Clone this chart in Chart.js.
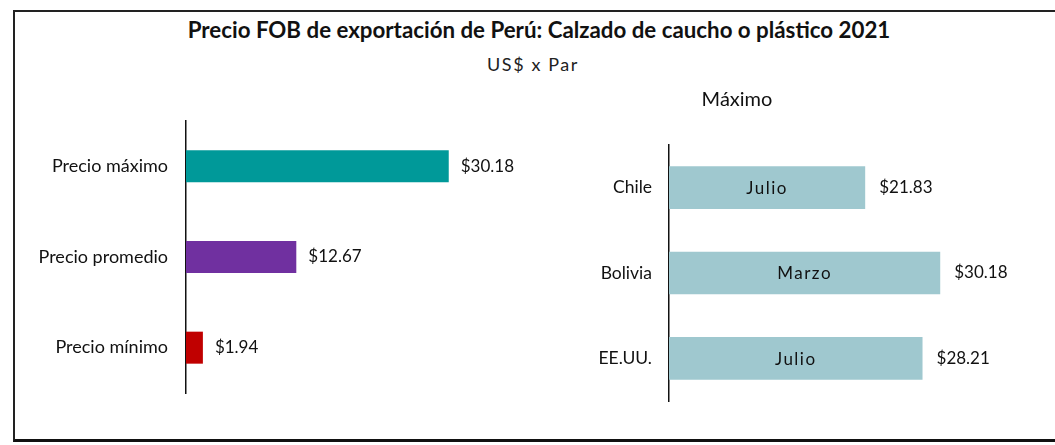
<!DOCTYPE html>
<html>
<head>
<meta charset="utf-8">
<script src="https://cdn.jsdelivr.net/npm/chart.js@4.4.1/dist/chart.umd.min.js"></script>
<style>
  body { margin:0; background:#fff; font-family: Lato, "Open Sans", sans-serif; }
  .frame { position:absolute; left:13px; top:10px; width:1060px; height:427px;
           border-top:2px solid #222; border-left:2px solid #222; border-bottom:3px solid #111; }
  .title { position:absolute; left:0; width:1078px; top:16px; line-height:28px; text-align:center;
           font-weight:bold; font-size:22.3px; color:#111; }
  .subtitle { position:absolute; left:0; width:1066px; top:53px; line-height:22px; text-align:center;
              font-size:18px; color:#222; letter-spacing:1.6px; }
  canvas { position:absolute; }
</style>
</head>
<body>
<div class="frame"></div>
<div class="title">Precio FOB de exportación de Perú: Calzado de caucho o plástico 2021</div>
<div class="subtitle">US$ x Par</div>
<canvas id="leftChart" width="500" height="310" style="left:20px;top:100px;width:500px;height:310px"></canvas>
<canvas id="rightChart" width="500" height="340" style="left:530px;top:80px;width:500px;height:340px"></canvas>
<script>
var precio_labels = ["Precio máximo", "Precio promedio", "Precio mínimo"];
var precio_values = [30.18, 12.67, 1.94];
var precio_colors = ["#009999", "#7030A0", "#C00000"];

var pais_labels = ["Chile", "Bolivia", "EE.UU."];
var pais_values = [21.83, 30.18, 28.21];
var pais_meses = ["Julio", "Marzo", "Julio"];

var font_txt = "Lato, 'Open Sans', sans-serif";

// etiquetas $ al final de cada barra y meses dentro
var valueLabels = {
  id: "valueLabels",
  afterDatasetsDraw: function(chart, args, opts) {
    var ctx = chart.ctx;
    var meta = chart.getDatasetMeta(0);
    var data = chart.data.datasets[0].data;
    ctx.save();
    ctx.fillStyle = "#111";
    ctx.textBaseline = "middle";
    meta.data.forEach(function(bar, i) {
      ctx.font = opts.size + "px " + font_txt;
      ctx.textAlign = "left";
      ctx.fillText("$" + data[i].toFixed(2), bar.x + opts.gap, bar.y);
      if (opts.inner) {
        ctx.textAlign = "center";
        ctx.font = "17px " + font_txt;
        if (ctx.letterSpacing !== undefined) ctx.letterSpacing = "1.5px";
        ctx.fillText(opts.inner[i], (bar.base + bar.x) / 2, bar.y + 1);
        if (ctx.letterSpacing !== undefined) ctx.letterSpacing = "0px";
      }
    });
    ctx.restore();
  }
};

// sin relleno extra arriba/abajo del eje de categorias
function fixAxis(w) {
  return function(axis) {
    axis.width = w;
    axis.paddingTop = 0;
    axis.paddingBottom = 0;
  };
}

Chart.defaults.font.family = font_txt;
Chart.defaults.color = "#111";

var left_chart = new Chart(document.getElementById("leftChart"), {
  type: "bar",
  data: {
    labels: precio_labels,
    datasets: [{
      data: precio_values,
      backgroundColor: precio_colors,
      barPercentage: 0.353,
      categoryPercentage: 1
    }]
  },
  options: {
    indexAxis: "y",
    responsive: false,
    animation: false,
    layout: { padding: { top: 21, bottom: 17, left: 0, right: 38 } },
    plugins: {
      legend: { display: false },
      tooltip: { enabled: false },
      valueLabels: { gap: 12, size: 17 }
    },
    scales: {
      x: { display: false, min: 0, max: 34 },
      y: {
        grid: { display: false, drawTicks: false },
        border: { display: true, color: "#111", width: 1.5 },
        ticks: { padding: 18, font: { size: 18 }, color: "#111" },
        afterFit: fixAxis(166)
      }
    }
  },
  plugins: [valueLabels]
});

var right_chart = new Chart(document.getElementById("rightChart"), {
  type: "bar",
  data: {
    labels: pais_labels,
    datasets: [{
      data: pais_values,
      backgroundColor: "#9FC8CF",
      barPercentage: 0.5,
      categoryPercentage: 1
    }]
  },
  options: {
    indexAxis: "y",
    responsive: false,
    animation: false,
    layout: { padding: { top: 0, bottom: 19, left: 0, right: 86 } },
    plugins: {
      legend: { display: false },
      tooltip: { enabled: false },
      title: {
        display: true, text: "Máximo", color: "#111",
        font: { size: 20, weight: "normal" },
        padding: { top: 8, bottom: 33 }
      },
      valueLabels: { gap: 14, size: 17, inner: pais_meses }
    },
    scales: {
      x: { display: false, min: 0, max: 30.6 },
      y: {
        grid: { display: false, drawTicks: false },
        border: { display: true, color: "#111", width: 1.5 },
        ticks: { padding: 17, font: { size: 17.5 }, color: "#111" },
        afterFit: fixAxis(139)
      }
    }
  },
  plugins: [valueLabels]
});
</script>
</body>
</html>
